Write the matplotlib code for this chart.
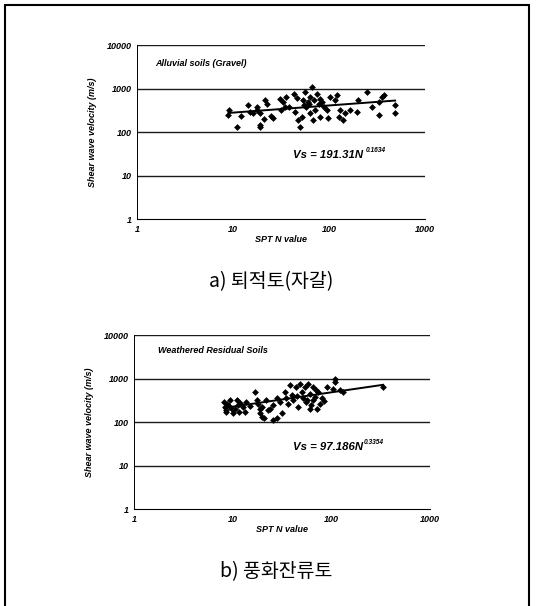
import matplotlib.pyplot as plt
import matplotlib.patches as patches

# Alluvial soils (Gravel): SPT N vs shear wave velocity (m/s)
gravel_n = [8.9, 9, 11, 12, 14.5, 15, 16, 17.6, 19, 19, 18, 19, 21, 21.6, 22.5, 25, 26,
            31, 32, 33, 35, 36, 38, 43, 44, 48, 50, 52, 54, 56, 58, 64, 66, 69, 72, 75,
            78, 64, 81, 81, 95, 98, 103, 116, 121, 126, 132, 141, 147, 167, 195, 202,
            250, 280, 330, 330, 360, 375, 490, 490, 60, 70, 85, 55, 47, 62, 90]
gravel_vs = [245, 320, 133, 233, 415, 290, 270, 320, 145, 128, 380, 270, 195, 540, 450,
             240, 210, 590, 320, 490, 380, 640, 380, 770, 290, 190, 133, 225, 540, 840,
             380, 640, 1090, 190, 320, 770, 450, 270, 590, 225, 320, 205, 640, 540, 700,
             225, 320, 190, 270, 320, 290, 540, 840, 380, 245, 490, 640, 700, 270, 415,
             480, 560, 500, 420, 600, 450, 380]
gravel_fit_n = [9, 490]
gravel_fit_vs = [275, 530]

# Weathered residual soils
resid_n = [8.2, 8.4, 8.6, 8.7, 9.4, 9.8, 10.2, 11, 11.4, 11.7, 12.8, 13.3, 13.8, 16.8,
           17.5, 18, 18.8, 18.8, 19.7, 20, 21, 22, 23, 25.6, 28, 25.6, 28, 30, 31.4, 34,
           35, 36.6, 38, 40, 41, 44, 46, 48, 50, 52, 54, 56, 58, 61, 63, 66, 68, 71, 61,
           66, 74, 77, 80, 90, 109, 109, 105, 122, 133, 336, 8.5, 9.2, 10.5, 12, 15, 24,
           45, 57, 70, 85]
resid_vs = [290, 225, 172, 265, 320, 205, 158, 320, 245, 172, 225, 172, 290, 495,
            320, 265, 205, 158, 133, 225, 122, 320, 190, 111, 122, 245, 350, 290, 158, 495,
            350, 265, 700, 415, 320, 640, 225, 770, 495, 350, 640, 290, 770, 450, 245, 640,
            380, 205, 205, 320, 495, 265, 350, 640, 1000, 840, 590, 540, 495, 640, 190, 240,
            200, 280, 240, 200, 400, 330, 560, 300]
resid_fit_n = [8.2, 336]
resid_fit_vs = [212, 720]

y_ticks = [1, 10, 100, 1000, 10000]
x_ticks = [1, 10, 100, 1000]
tick_labels_y = ['1', '10', '100', '1000', '10000']
tick_labels_x = ['1', '10', '100', '1000']

plt.rcParams['font.family'] = ['Liberation Sans', 'DejaVu Sans']

fig = plt.figure(figsize=(5.42, 6.06), dpi=100)
fig.patches.append(patches.Rectangle((0.009, -0.05), 0.967, 1.042, transform=fig.transFigure,
                                     fill=False, edgecolor='black', linewidth=1.5))

small = dict(fontsize=6.5, fontweight='bold', fontstyle='italic')


def panel(rect, n, vs, fit_n, fit_vs, title, title_xy, eq, eq_xy, exp, exp_xy):
    ax = fig.add_axes(rect)
    ax.set_xscale('log')
    ax.set_yscale('log')
    ax.set_xlim(1, 1000)
    ax.set_ylim(1, 10000)
    for y in y_ticks[1:]:
        ax.axhline(y, color='0.1', linewidth=1.0, zorder=1)
    ax.scatter(n, vs, marker='D', s=12, color='black', zorder=3, linewidths=0)
    ax.plot(fit_n, fit_vs, color='black', linewidth=1.4, zorder=4)
    ax.set_xticks(x_ticks)
    ax.set_xticklabels(tick_labels_x, **small)
    ax.set_yticks(y_ticks)
    ax.set_yticklabels(tick_labels_y, **small)
    ax.minorticks_off()
    ax.tick_params(length=0, pad=4)
    ax.spines['right'].set_visible(False)
    ax.spines['top'].set_visible(False)
    ax.spines['left'].set_linestyle((0, (3, 1)))
    ax.spines['left'].set_linewidth(0.7)
    ax.spines['bottom'].set_linewidth(0.8)
    ax.set_xlabel('SPT N value', labelpad=1, **small)
    ax.set_ylabel('Shear wave velocity (m/s)', labelpad=7, **small)
    ax.text(title_xy[0], title_xy[1], title, transform=ax.transAxes, va='center', **small)
    ax.text(eq_xy[0], eq_xy[1], eq, transform=ax.transAxes, va='center',
            fontsize=8.2, fontweight='bold', fontstyle='italic')
    ax.text(exp_xy[0], exp_xy[1], exp, transform=ax.transAxes, va='center',
            fontsize=4.8, fontweight='bold', fontstyle='italic')
    return ax


panel([0.2528, 0.6386, 0.531, 0.287], gravel_n, gravel_vs, gravel_fit_n, gravel_fit_vs,
      'Alluvial soils (Gravel)', (0.063, 0.897), 'Vs = 191.31N', (0.542, 0.368),
      '0.1634', (0.795, 0.395))
panel([0.2472, 0.160, 0.546, 0.287], resid_n, resid_vs, resid_fit_n, resid_fit_vs,
      'Weathered Residual Soils', (0.081, 0.914), 'Vs = 97.186N', (0.537, 0.356),
      '0.3354', (0.775, 0.385))

cap = dict(fontsize=14, ha='center', va='center', family=['Noto Sans CJK KR', 'DejaVu Sans'])
fig.text(0.50, 1 - 282 / 606, 'a) 퇴적토(자갈)', **cap)
fig.text(0.51, 1 - 572 / 606, 'b) 풍화잔류토', **cap)

fig.savefig('out.png', dpi=100)
